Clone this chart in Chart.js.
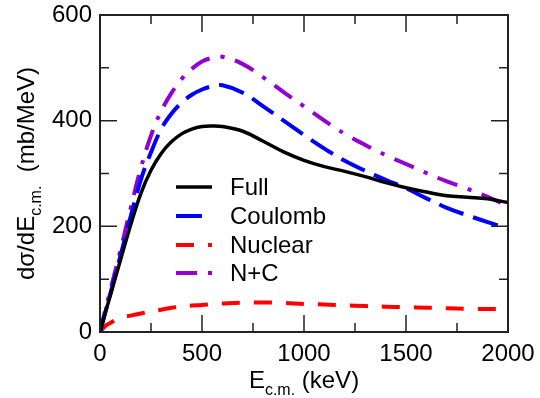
<!DOCTYPE html>
<html><head><meta charset="utf-8">
<script src="https://cdn.jsdelivr.net/npm/chart.js@4/dist/chart.umd.min.js"></script>
<style>html,body{margin:0;padding:0;background:#fff}#wrap{width:540px;height:398px}</style>
</head><body><div id="wrap"><canvas id="c" width="540" height="398"></canvas></div>
<script>
// Energy grid (keV)
const energies = [0, 25, 50, 100, 150, 200, 250, 300, 350, 400, 450, 500, 550, 600, 700, 800, 900, 1000, 1100, 1200, 1300, 1400, 1500, 1600, 1700, 1800, 1900, 2000];
// dσ/dE (mb/MeV)
const full    = [0, 35, 68, 136, 202, 262, 306, 338, 360, 375, 384, 389, 390, 389, 380, 361, 341, 325, 313, 304, 294, 283, 273, 265, 258, 255, 252, 245];
const coulomb = [0, 36, 72, 144, 218, 288, 340, 384, 413, 434, 449, 459, 465, 467, 453, 427, 400, 373, 347, 324, 305, 288, 272, 253, 235, 221, 208, 196];
const nuclear = [0, 11, 17, 27, 31, 35, 39, 42, 46, 48, 50, 51, 53, 54, 55.5, 56, 55, 53, 52, 50.5, 49, 48, 47, 46, 45, 44, 43.5, 43];
const nPlusC  = [0, 40, 78, 154, 234, 310, 372, 418, 452, 479, 498, 512, 519, 521, 507, 482, 454, 427, 400, 375, 354, 335, 318, 301, 285, 271, 256, 238];
const seriesLabels = ['Full', 'Coulomb', 'Nuclear', 'N+C'];
const xMajorTicks = [0, 500, 1000, 1500, 2000];
const xMinorTicks = [250, 750, 1250, 1750];
const yMajorTicks = [0, 200, 400, 600];
const yMinorTicks = [100, 300, 500];

const FONT = '"Liberation Sans", Arial, Helvetica, sans-serif';
const FS = 24;

function pts(ys){ return energies.map((e,i)=>({x:e, y:ys[i]})); }

const styles = [
  {color:'#000000', dash:[], width:3.5},
  {color:'#0000ff', dash:[26,10], width:4},
  {color:'#ff0000', dash:[18,14], width:4},
  {color:'#9400d3', dash:[21,11,4,11], width:4}
];
const seriesData = [full, coulomb, nuclear, nPlusC];

const frameTicks = {
  id:'frameTicks',
  afterDatasetsDraw(chart){
    const {ctx, chartArea:a, scales:{x, y}} = chart;
    ctx.save();
    ctx.strokeStyle = '#222';
    ctx.lineWidth = 1.5;
    ctx.beginPath();
    const maj = 17, min = 9;
    xMajorTicks.concat(xMinorTicks).forEach(v=>{
      const L = xMajorTicks.includes(v) ? maj : min;
      const px = x.getPixelForValue(v);
      ctx.moveTo(px, a.bottom); ctx.lineTo(px, a.bottom - L);
      ctx.moveTo(px, a.top); ctx.lineTo(px, a.top + L);
    });
    yMajorTicks.concat(yMinorTicks).forEach(v=>{
      const L = yMajorTicks.includes(v) ? maj : min;
      const py = y.getPixelForValue(v);
      ctx.moveTo(a.left, py); ctx.lineTo(a.left + L, py);
      ctx.moveTo(a.right, py); ctx.lineTo(a.right - L, py);
    });
    ctx.stroke();
    ctx.lineWidth = 2;
    ctx.strokeRect(a.left, a.top, a.right - a.left, a.bottom - a.top);
    ctx.restore();
  },
  afterDraw(chart){
    const {ctx, chartArea:a} = chart;
    ctx.save();
    ctx.fillStyle = '#000';
    const main = FS + 'px ' + FONT, sub = '16px ' + FONT;
    // x title
    ctx.font = main; const wE = ctx.measureText('E').width; const wK = ctx.measureText(' (keV)').width;
    ctx.font = sub; const wS = ctx.measureText('c.m.').width;
    let x0 = (a.left + a.right)/2 - (wE + wS + wK)/2;
    const by = 388;
    ctx.textBaseline = 'alphabetic'; ctx.textAlign = 'left';
    ctx.font = main; ctx.fillText('E', x0, by);
    ctx.font = sub; ctx.fillText('c.m.', x0 + wE, by + 7);
    ctx.font = main; ctx.fillText(' (keV)', x0 + wE + wS, by);
    // y title
    ctx.save();
    ctx.translate(34, (a.top + a.bottom)/2);
    ctx.rotate(-Math.PI/2);
    ctx.font = main; const w1 = ctx.measureText('dσ/dE').width; const w3 = ctx.measureText('  (mb/MeV)').width;
    ctx.font = sub; const w2 = ctx.measureText('c.m.').width;
    let s = -(w1 + w2 + w3)/2;
    ctx.font = main; ctx.fillText('dσ/dE', s, 0);
    ctx.font = sub; ctx.fillText('c.m.', s + w1, 7);
    ctx.font = main; ctx.fillText('  (mb/MeV)', s + w1 + w2, 0);
    ctx.restore();
    // legend
    const rows = [187, 216, 245, 273];
    chart.data.datasets.forEach((ds, i)=>{
      const yy = rows[i];
      ctx.save();
      ctx.strokeStyle = ds.borderColor; ctx.lineWidth = ds.borderWidth;
      ctx.setLineDash(ds.borderDash || []);
      ctx.beginPath(); ctx.moveTo(176, yy); ctx.lineTo(212, yy); ctx.stroke();
      ctx.restore();
      ctx.font = main; ctx.textBaseline = 'middle'; ctx.fillStyle = '#000';
      ctx.fillText(ds.label, 230, yy + 1);
    });
    ctx.restore();
  }
};

new Chart(document.getElementById('c'), {
  type:'line',
  data:{
    datasets: seriesLabels.map((lab, i)=>({
      label: lab,
      data: pts(seriesData[i]),
      borderColor: styles[i].color,
      backgroundColor: styles[i].color,
      borderWidth: styles[i].width,
      borderDash: styles[i].dash,
      pointRadius: 0,
      tension: 0.4,
      fill: false
    }))
  },
  options:{
    responsive:false,
    devicePixelRatio:1,
    animation:false,
    layout:{padding:{top:15, right:32, left:0, bottom:0}},
    plugins:{legend:{display:false}, tooltip:{enabled:false}},
    scales:{
      x:{
        type:'linear', min:0, max:2000,
        afterFit(s){ s.height = 66; s.paddingRight = 0; s.paddingLeft = 0; },
        afterBuildTicks(s){ s.ticks = xMajorTicks.map(v=>({value:v})); },
        grid:{display:false, drawTicks:false}, border:{display:false},
        ticks:{color:'#000', font:{family:FONT, size:FS}, padding:8, maxRotation:0, callback:v=>String(v)}
      },
      y:{
        type:'linear', min:0, max:600,
        afterFit(s){ s.width = 100; s.paddingTop = 0; s.paddingBottom = 0; },
        afterBuildTicks(s){ s.ticks = yMajorTicks.map(v=>({value:v})); },
        grid:{display:false, drawTicks:false}, border:{display:false},
        ticks:{color:'#000', font:{family:FONT, size:FS}, padding:8, callback:v=>String(v)}
      }
    }
  },
  plugins:[frameTicks]
});
</script></body></html>
